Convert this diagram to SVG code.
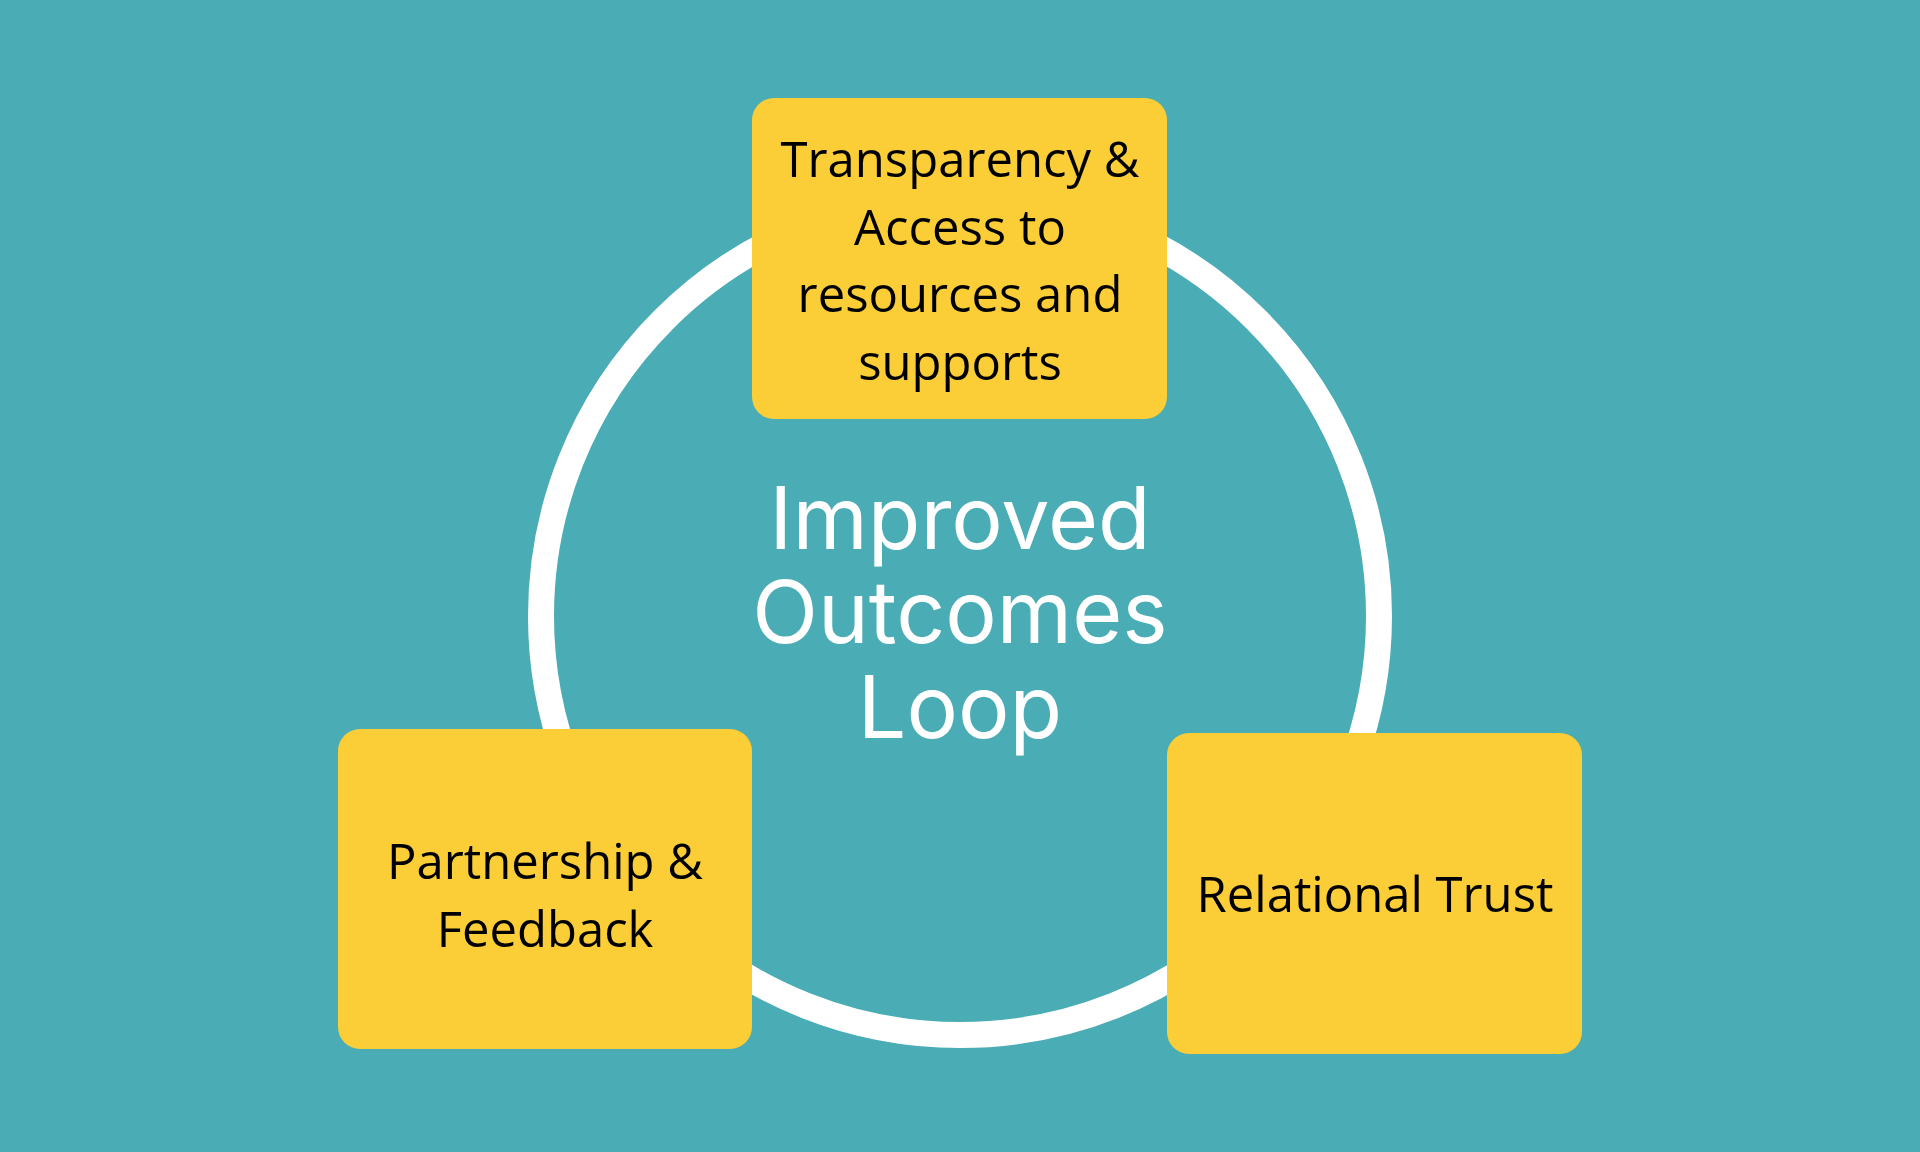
<svg xmlns="http://www.w3.org/2000/svg" width="1920" height="1152" viewBox="0 0 1920 1152">
<style>
.box{fill:#FBCD36}
.t{font-family:"Open Sans","Liberation Sans",sans-serif;font-size:49px;fill:#000;text-anchor:middle}
.c{font-family:Inter,"Open Sans",sans-serif;font-size:86px;fill:#fff;text-anchor:middle}
</style>
<rect width="1920" height="1152" fill="#4AACB4"/>
<g id="connectors"><circle cx="960" cy="616" r="419" fill="none" stroke="#fff" stroke-width="26"/></g>
<g id="center"><text class="c" x="960" y="549">Improved</text><text class="c" x="960" y="643">Outcomes</text><text class="c" x="960" y="738">Loop</text></g>
<g id="top"><rect class="box" x="752" y="98" width="415" height="321" rx="22"/>
<text class="t" x="960" y="177">Transparency &amp;</text><text class="t" x="960" y="245">Access to</text><text class="t" x="960" y="312">resources and</text><text class="t" x="960" y="380">supports</text></g>
<g id="left"><rect class="box" x="338" y="729" width="414" height="320" rx="22"/>
<text class="t" x="545" y="879">Partnership &amp;</text><text class="t" x="545" y="947">Feedback</text></g>
<g id="right"><rect class="box" x="1167" y="733" width="415" height="321" rx="22"/>
<text class="t" x="1375" y="912">Relational Trust</text></g>
</svg>
